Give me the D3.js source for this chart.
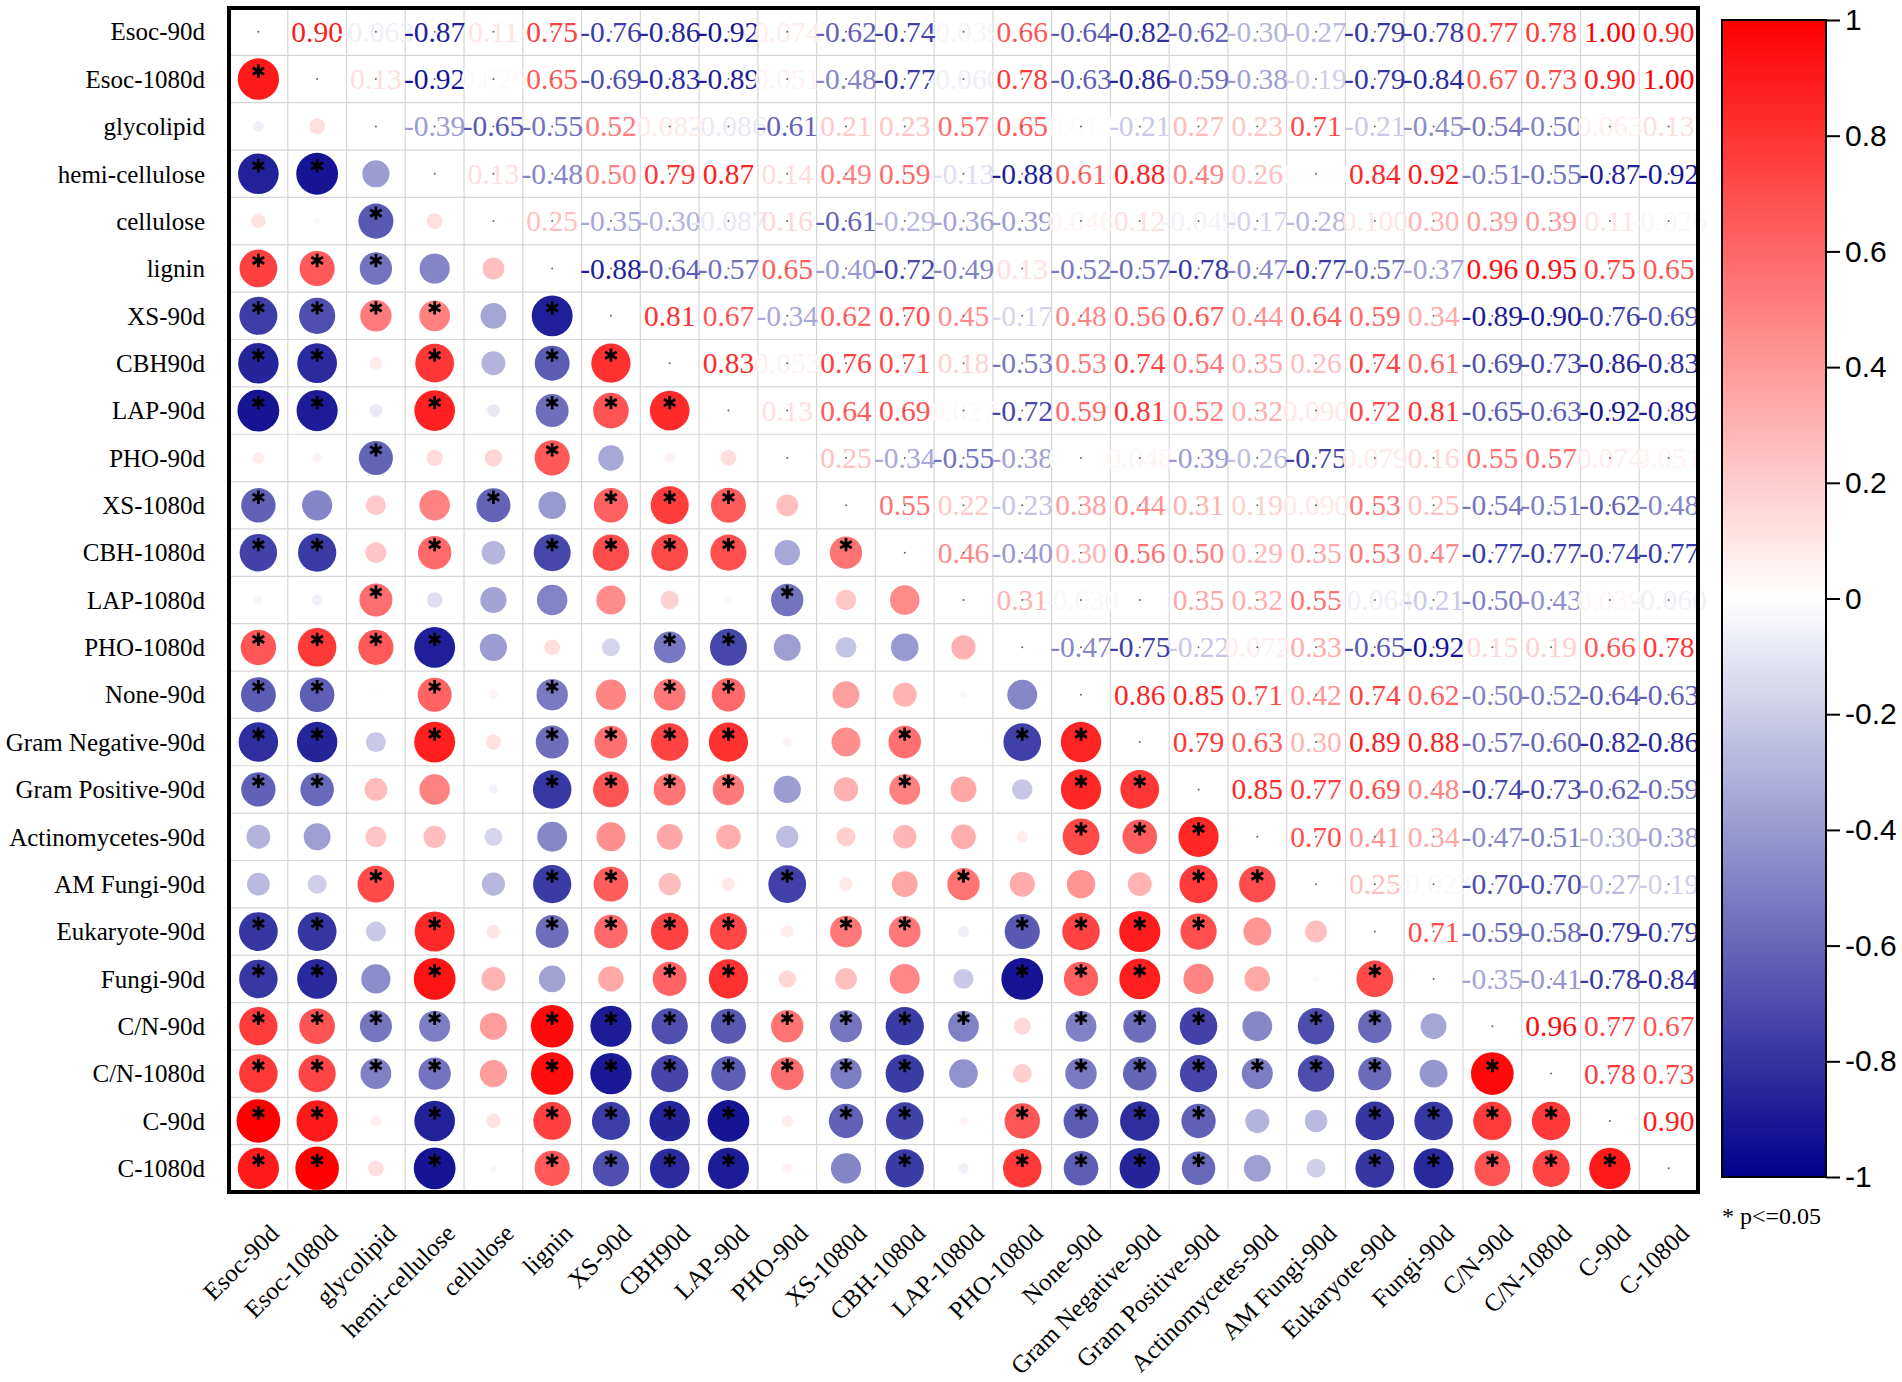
<!DOCTYPE html>
<html>
<head>
<meta charset="utf-8">
<script src="https://cdn.jsdelivr.net/npm/d3@7"></script>
<style>
  body { margin: 0; background: #fff; }
</style>
</head>
<body>
<div id="chart"></div>
<script>
// variable names, in matrix order
const variables = ["Esoc-90d", "Esoc-1080d", "glycolipid", "hemi-cellulose", "cellulose", "lignin",
  "XS-90d", "CBH90d", "LAP-90d", "PHO-90d", "XS-1080d", "CBH-1080d", "LAP-1080d", "PHO-1080d",
  "None-90d", "Gram Negative-90d", "Gram Positive-90d", "Actinomycetes-90d", "AM Fungi-90d",
  "Eukaryote-90d", "Fungi-90d", "C/N-90d", "C/N-1080d", "C-90d", "C-1080d"];

// each row: correlation of that variable with every variable after it
const rEsoc90d = [0.90, -0.063, -0.87, 0.11, 0.75, -0.76, -0.86, -0.92, 0.074, -0.62, -0.74, -0.039, 0.66, -0.64, -0.82, -0.62, -0.30, -0.27, -0.79, -0.78, 0.77, 0.78, 1.00, 0.90];
const rEsoc1080d = [0.13, -0.92, 0.026, 0.65, -0.69, -0.83, -0.89, 0.051, -0.48, -0.77, -0.060, 0.78, -0.63, -0.86, -0.59, -0.38, -0.19, -0.79, -0.84, 0.67, 0.73, 0.90, 1.00];
const rGlycolipid = [-0.39, -0.65, -0.55, 0.52, 0.082, -0.086, -0.61, 0.21, 0.23, 0.57, 0.65, 0.014, -0.21, 0.27, 0.23, 0.71, -0.21, -0.45, -0.54, -0.50, 0.063, 0.13];
const rHemi = [0.13, -0.48, 0.50, 0.79, 0.87, 0.14, 0.49, 0.59, -0.13, -0.88, 0.61, 0.88, 0.49, 0.26, 0.009, 0.84, 0.92, -0.51, -0.55, -0.87, -0.92];
const rCellulose = [0.25, -0.35, -0.30, -0.087, 0.16, -0.61, -0.29, -0.36, -0.39, 0.046, 0.12, -0.049, -0.17, -0.28, 0.0999, 0.30, 0.39, 0.39, 0.11, -0.026];
const rLignin = [-0.88, -0.64, -0.57, 0.65, -0.40, -0.72, -0.49, 0.13, -0.52, -0.57, -0.78, -0.47, -0.77, -0.57, -0.37, 0.96, 0.95, 0.75, 0.65];
const rXS90d = [0.81, 0.67, -0.34, 0.62, 0.70, 0.45, -0.17, 0.48, 0.56, 0.67, 0.44, 0.64, 0.59, 0.34, -0.89, -0.90, -0.76, -0.69];
const rCBH90d = [0.83, 0.053, 0.76, 0.71, 0.18, -0.53, 0.53, 0.74, 0.54, 0.35, 0.26, 0.74, 0.61, -0.69, -0.73, -0.86, -0.83];
const rLAP90d = [0.13, 0.64, 0.69, 0.027, -0.72, 0.59, 0.81, 0.52, 0.32, 0.090, 0.72, 0.81, -0.65, -0.63, -0.92, -0.89];
const rPHO90d = [0.25, -0.34, -0.55, -0.38, 0.001, 0.048, -0.39, -0.26, -0.75, 0.079, 0.16, 0.55, 0.57, 0.074, 0.051];
const rXS1080d = [0.55, 0.22, -0.23, 0.38, 0.44, 0.31, 0.19, 0.090, 0.53, 0.25, -0.54, -0.51, -0.62, -0.48];
const rCBH1080d = [0.46, -0.40, 0.30, 0.56, 0.50, 0.29, 0.35, 0.53, 0.47, -0.77, -0.77, -0.74, -0.77];
const rLAP1080d = [0.31, -0.030, 0.001, 0.35, 0.32, 0.55, -0.064, -0.21, -0.50, -0.43, 0.039, -0.060];
const rPHO1080d = [-0.47, -0.75, -0.22, 0.072, 0.33, -0.65, -0.92, 0.15, 0.19, 0.66, 0.78];
const rNone90d = [0.86, 0.85, 0.71, 0.42, 0.74, 0.62, -0.50, -0.52, -0.64, -0.63];
const rGramNeg = [0.79, 0.63, 0.30, 0.89, 0.88, -0.57, -0.60, -0.82, -0.86];
const rGramPos = [0.85, 0.77, 0.69, 0.48, -0.74, -0.73, -0.62, -0.59];
const rActino = [0.70, 0.41, 0.34, -0.47, -0.51, -0.30, -0.38];
const rAMFungi = [0.25, -0.023, -0.70, -0.70, -0.27, -0.19];
const rEukaryote = [0.71, -0.59, -0.58, -0.79, -0.79];
const rFungi = [-0.35, -0.41, -0.78, -0.84];
const rCN90d = [0.96, 0.77, 0.67];
const rCN1080d = [0.78, 0.73];
const rC90d = [0.90];

const upperRows = [rEsoc90d, rEsoc1080d, rGlycolipid, rHemi, rCellulose, rLignin, rXS90d, rCBH90d,
  rLAP90d, rPHO90d, rXS1080d, rCBH1080d, rLAP1080d, rPHO1080d, rNone90d, rGramNeg, rGramPos,
  rActino, rAMFungi, rEukaryote, rFungi, rCN90d, rCN1080d, rC90d, []];

const colorTicks = [1, 0.8, 0.6, 0.4, 0.2, 0, -0.2, -0.4, -0.6, -0.8, -1];
const sigCut = 0.5;   // |r| from which the source marks p<=0.05 with a star

const width = 1902, height = 1382;
const plot = {left: 229, top: 8, right: 1698, bottom: 1192};

const svg = d3.select("#chart").append("svg")
    .attr("width", width)
    .attr("height", height)
    .style("font-family", "'Liberation Serif', 'Times New Roman', serif");

const x = d3.scaleBand().domain(variables).range([plot.left, plot.right]);
const y = d3.scaleBand().domain(variables).range([plot.top, plot.bottom]);
const color = d3.scaleLinear().domain([-1, 0, 1]).range(["#00008b", "#ffffff", "#ff0000"]);
const radius = d3.scaleSqrt().domain([0, 1]).range([0, 21.8]);

// value of pair (i, j) from the upper-triangle rows
function corr(i, j) {
    if (i === j) return 1;
    const a = Math.min(i, j), b = Math.max(i, j);
    return upperRows[a][b - a - 1];
}

const cells = [];
variables.forEach((rowName, i) => {
    variables.forEach((colName, j) => {
        cells.push({row: rowName, col: colName, i: i, j: j, r: corr(i, j)});
    });
});

const cx = d => x(d.col) + x.bandwidth() / 2;
const cy = d => y(d.row) + y.bandwidth() / 2;

// grid lines
const grid = svg.append("g").attr("stroke", "#d6d6d6").attr("stroke-width", 1.2);
grid.selectAll(".vl")
    .data(variables.slice(1))
    .enter().append("line")
    .attr("x1", d => x(d)).attr("x2", d => x(d))
    .attr("y1", plot.top).attr("y2", plot.bottom);
grid.selectAll(".hl")
    .data(variables.slice(1))
    .enter().append("line")
    .attr("y1", d => y(d)).attr("y2", d => y(d))
    .attr("x1", plot.left).attr("x2", plot.right);

// lower triangle: circles
const lower = cells.filter(d => d.j < d.i);
svg.append("g").selectAll("circle")
    .data(lower)
    .enter().append("circle")
    .attr("cx", cx)
    .attr("cy", cy)
    .attr("r", d => radius(Math.abs(d.r)))
    .attr("fill", d => color(d.r));

// significance stars
const star = d3.symbol().type(d3.symbolAsterisk).size(125);
svg.append("g").selectAll("path")
    .data(lower.filter(d => Math.abs(d.r) >= sigCut))
    .enter().append("path")
    .attr("d", star)
    .attr("transform", d => "translate(" + cx(d) + "," + (cy(d) - 8) + ")")
    .attr("fill", "none")
    .attr("stroke", "#000")
    .attr("stroke-width", 2.8);

// upper triangle: numbers
const fmt = r => Math.abs(r) < 0.1 ? r.toFixed(3) : r.toFixed(2);
const upper = cells.filter(d => d.j > d.i);
svg.append("g").selectAll("text")
    .data(upper)
    .enter().append("text")
    .attr("x", cx)
    .attr("y", cy)
    .attr("dy", "0.34em")
    .attr("text-anchor", "middle")
    .attr("font-size", 29.5)
    .attr("fill", d => color(d.r))
    .text(d => fmt(d.r));

// small centre marks on diagonal and upper cells
svg.append("g").selectAll("circle")
    .data(cells.filter(d => d.j >= d.i))
    .enter().append("circle")
    .attr("cx", cx)
    .attr("cy", cy)
    .attr("r", 1)
    .attr("fill", "#666");

// frame
svg.append("rect")
    .attr("x", plot.left).attr("y", plot.top)
    .attr("width", plot.right - plot.left)
    .attr("height", plot.bottom - plot.top)
    .attr("fill", "none")
    .attr("stroke", "#000")
    .attr("stroke-width", 4);

// row labels
svg.append("g").selectAll("text")
    .data(variables)
    .enter().append("text")
    .attr("x", 205)
    .attr("y", d => y(d) + y.bandwidth() / 2)
    .attr("dy", "0.35em")
    .attr("text-anchor", "end")
    .attr("font-size", 25)
    .text(d => d);

// column labels
svg.append("g").selectAll("text")
    .data(variables)
    .enter().append("text")
    .attr("transform", d => "translate(" + (x(d) + x.bandwidth() / 2 + 22) + ",1235) rotate(-45)")
    .attr("text-anchor", "end")
    .attr("font-size", 25)
    .text(d => d);

// colour bar
const cb = {x: 1722, w: 104, top: 20, bottom: 1177};
const grad = svg.append("defs").append("linearGradient")
    .attr("id", "cbGrad")
    .attr("x1", 0).attr("y1", 0).attr("x2", 0).attr("y2", 1);
grad.selectAll("stop")
    .data([1, 0.5, 0, -0.5, -1])
    .enter().append("stop")
    .attr("offset", d => ((1 - d) / 2 * 100) + "%")
    .attr("stop-color", d => color(d));

svg.append("rect")
    .attr("x", cb.x).attr("y", cb.top)
    .attr("width", cb.w).attr("height", cb.bottom - cb.top)
    .attr("fill", "url(#cbGrad)")
    .attr("stroke", "#000")
    .attr("stroke-width", 2);

const cbScale = d3.scaleLinear().domain([-1, 1]).range([cb.bottom, cb.top]);
const cbAxis = svg.append("g")
    .attr("transform", "translate(" + (cb.x + cb.w) + ",0)")
    .call(d3.axisRight(cbScale)
        .tickValues(colorTicks)
        .tickSize(14)
        .tickPadding(5)
        .tickFormat(d => String(d)));
cbAxis.select(".domain").remove();
cbAxis.selectAll("line").attr("stroke", "#000").attr("stroke-width", 2);
cbAxis.selectAll("text")
    .attr("fill", "#000")
    .attr("font-size", 30)
    .attr("font-family", "'Liberation Sans', Arial, sans-serif");

svg.append("text")
    .attr("x", 1722)
    .attr("y", 1224)
    .attr("font-size", 24)
    .text("* p<=0.05");
</script>
</body>
</html>
